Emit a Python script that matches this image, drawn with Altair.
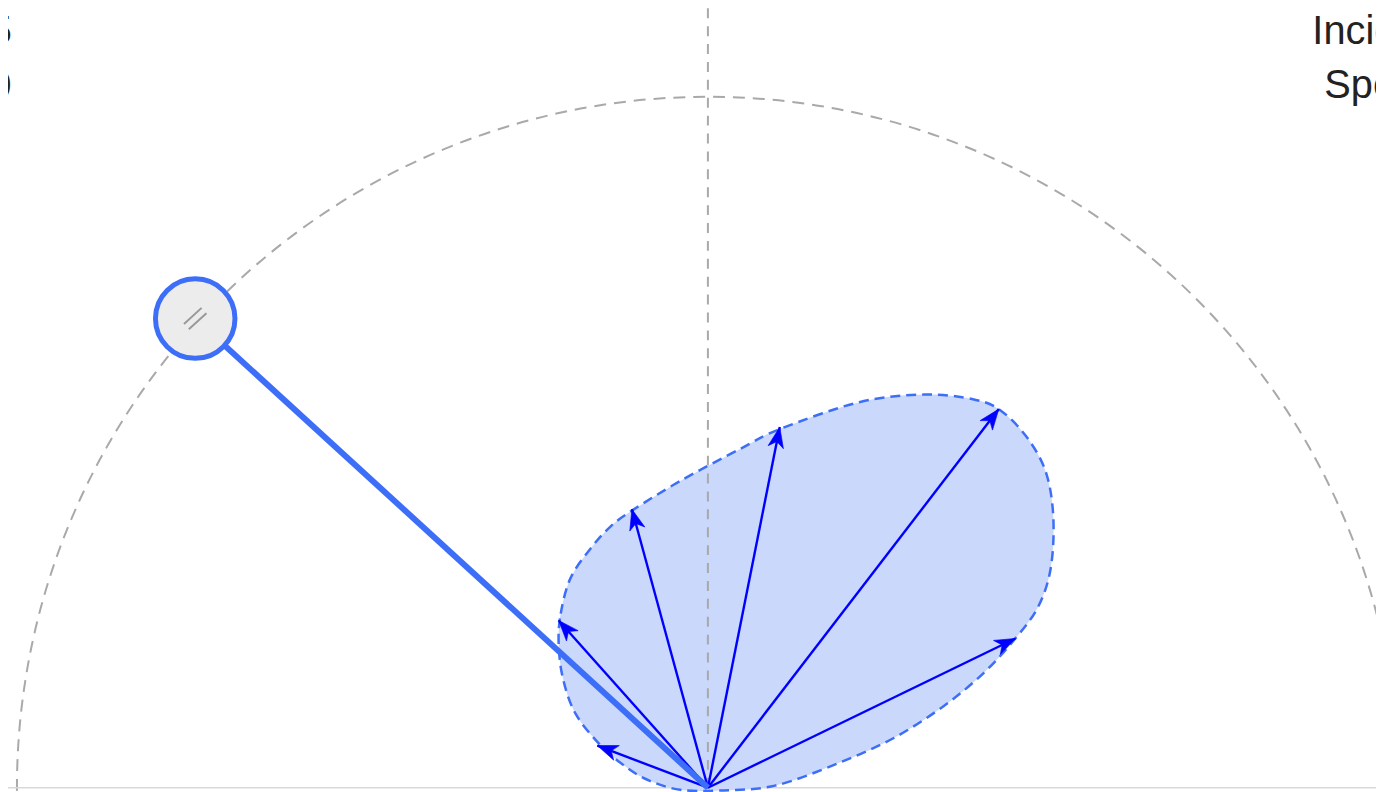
import math
import altair as alt
import pandas as pd

# ---------------- data (unit = radius of the dashed reference circle, y up) -------------
# incident-light handle position
handle_x = [-0.742]
handle_y = [0.679]

# tips of the reflected sample arrows
arrow_x = [0.421, 0.445, 0.104, -0.110, -0.216, -0.160]
arrow_y = [0.548, 0.216, 0.522, 0.403, 0.242, 0.061]

# boundary of the specular lobe (read around the dashed outline)
lobe_x = [-0.216, -0.213, -0.199, -0.170, -0.141, -0.110, -0.040, 0.046, 0.104, 0.219,
          0.313, 0.385, 0.425, 0.464, 0.490, 0.500, 0.496, 0.478, 0.445, 0.399,
          0.341, 0.269, 0.190, 0.097, 0.017, -0.040, -0.084, -0.117, -0.156, -0.192,
          -0.210]
lobe_y = [0.209, 0.252, 0.303, 0.346, 0.378, 0.401, 0.444, 0.490, 0.519, 0.558,
          0.569, 0.562, 0.545, 0.504, 0.454, 0.389, 0.317, 0.262, 0.216, 0.166,
          0.118, 0.072, 0.036, 0.003, -0.004, -0.003, 0.010, 0.029, 0.062, 0.108,
          0.159]

left_labels = ["Incidence angle: 47.5", "Roughness: 0.39"]
right_labels = ["Incident light", "Specular lobe"]

# ---------------- layout ----------------
W, H = 1376, 784
R = 695.0            # pixels per unit
OX, OY = 704, 782    # origin position inside the chart (pixels)

xs = alt.Scale(domain=[-OX / R, (W - OX) / R], nice=False, zero=False)
ys = alt.Scale(domain=[-(H - OY) / R, OY / R], nice=False, zero=False)

BLUE = "#3d6ef7"
GREY = "#a9a9a9"
FONT = "Liberation Sans"

one = pd.DataFrame({"x": [0.0], "y": [0.0]})

# big dashed reference circle
circle = alt.Chart(one).mark_point(
    shape="circle", size=(2 * R) ** 2, filled=False, stroke=GREY,
    strokeWidth=2, strokeDash=[12, 8], opacity=1
).encode(x=alt.X("x:Q", scale=xs, axis=None), y=alt.Y("y:Q", scale=ys, axis=None))

# vertical normal (dashed)
normal = alt.Chart(one).mark_rule(stroke=GREY, strokeWidth=2, strokeDash=[10, 8]).encode(
    x=alt.X("x:Q", scale=xs, axis=None),
    y=alt.Y("y:Q", scale=ys, axis=None),
    y2=alt.Y2(datum=OY / R + 0.05),
)

# surface line
surface = alt.Chart(one).mark_rule(stroke="#d9d9d9", strokeWidth=1.5).encode(
    x=alt.X(datum=-OX / R, scale=xs, axis=None),
    x2=alt.X2(datum=(W - OX) / R),
    y=alt.Y("y:Q", scale=ys, axis=None),
)

# specular lobe
lobe_df = pd.DataFrame({"x": lobe_x, "y": lobe_y, "i": list(range(len(lobe_x)))})
lobe = alt.Chart(lobe_df).mark_line(
    interpolate="cardinal-closed", fill="#c9d8fb", fillOpacity=1, stroke=BLUE,
    strokeWidth=2.5, strokeDash=[10, 6]
).encode(
    x=alt.X("x:Q", scale=xs, axis=None),
    y=alt.Y("y:Q", scale=ys, axis=None),
    order=alt.Order("i:Q"),
)

# arrows
arr_df = pd.DataFrame({"x": arrow_x, "y": arrow_y})
arr_df["x0"] = 0.0
arr_df["y0"] = 0.0
arr_df["ang"] = [(math.degrees(math.atan2(a, b)) + 360) % 360 for a, b in zip(arrow_x, arrow_y)]

shafts = alt.Chart(arr_df).mark_rule(stroke="#0000ff", strokeWidth=2.4).encode(
    x=alt.X("x0:Q", scale=xs, axis=None), y=alt.Y("y0:Q", scale=ys, axis=None),
    x2="x:Q", y2="y:Q",
)
heads = alt.Chart(arr_df).mark_point(
    shape="M0,0L0.38,1L0,0.72L-0.38,1Z", filled=True, fill="#0000ff", stroke="#0000ff",
    strokeWidth=0.6, size=1700, opacity=1
).encode(
    x=alt.X("x:Q", scale=xs, axis=None), y=alt.Y("y:Q", scale=ys, axis=None),
    angle=alt.Angle("ang:Q", scale=None),
)

# incident rod and handle
h_df = pd.DataFrame({"x": handle_x, "y": handle_y, "x0": [0.0], "y0": [0.0]})
h_df["ang"] = [(math.degrees(math.atan2(-handle_y[0], -handle_x[0])) + 360) % 360]
rod = alt.Chart(h_df).mark_rule(stroke=BLUE, strokeWidth=6).encode(
    x=alt.X("x0:Q", scale=xs, axis=None), y=alt.Y("y0:Q", scale=ys, axis=None),
    x2="x:Q", y2="y:Q",
)
handle = alt.Chart(h_df).mark_point(
    shape="circle", size=6400, filled=True, fill="#ececec", stroke=BLUE,
    strokeWidth=5, opacity=1
).encode(x=alt.X("x:Q", scale=xs, axis=None), y=alt.Y("y:Q", scale=ys, axis=None))
grip = alt.Chart(h_df).mark_point(
    shape="M-1,-0.3L1,-0.3M-1,0.3L1,0.3", filled=False, stroke="#999999",
    strokeWidth=2, size=576, opacity=1
).encode(
    x=alt.X("x:Q", scale=xs, axis=None), y=alt.Y("y:Q", scale=ys, axis=None),
    angle=alt.Angle("ang:Q", scale=None),
)

# labels
def label(txt, x, y, align):
    return alt.Chart(one).mark_text(
        text=txt, align=align, baseline="alphabetic", font=FONT, fontSize=40, color="#222222"
    ).encode(x=alt.value(x), y=alt.value(y))

texts = [
    label(left_labels[0], 4, 34, "right"),
    label(left_labels[1], 4, 89, "right"),
    label(right_labels[0], 1312, 34, "left"),
    label(right_labels[1], 1324, 88, "left"),
]

chart = alt.layer(
    circle, surface, lobe, normal, shafts, heads, rod, handle, grip, *texts
).properties(
    width=W, height=H, padding=0, autosize=alt.AutoSizeParams(type="none")
).configure_view(stroke=None)

chart.save("out.html", embed_options={"renderer": "svg", "actions": False})
